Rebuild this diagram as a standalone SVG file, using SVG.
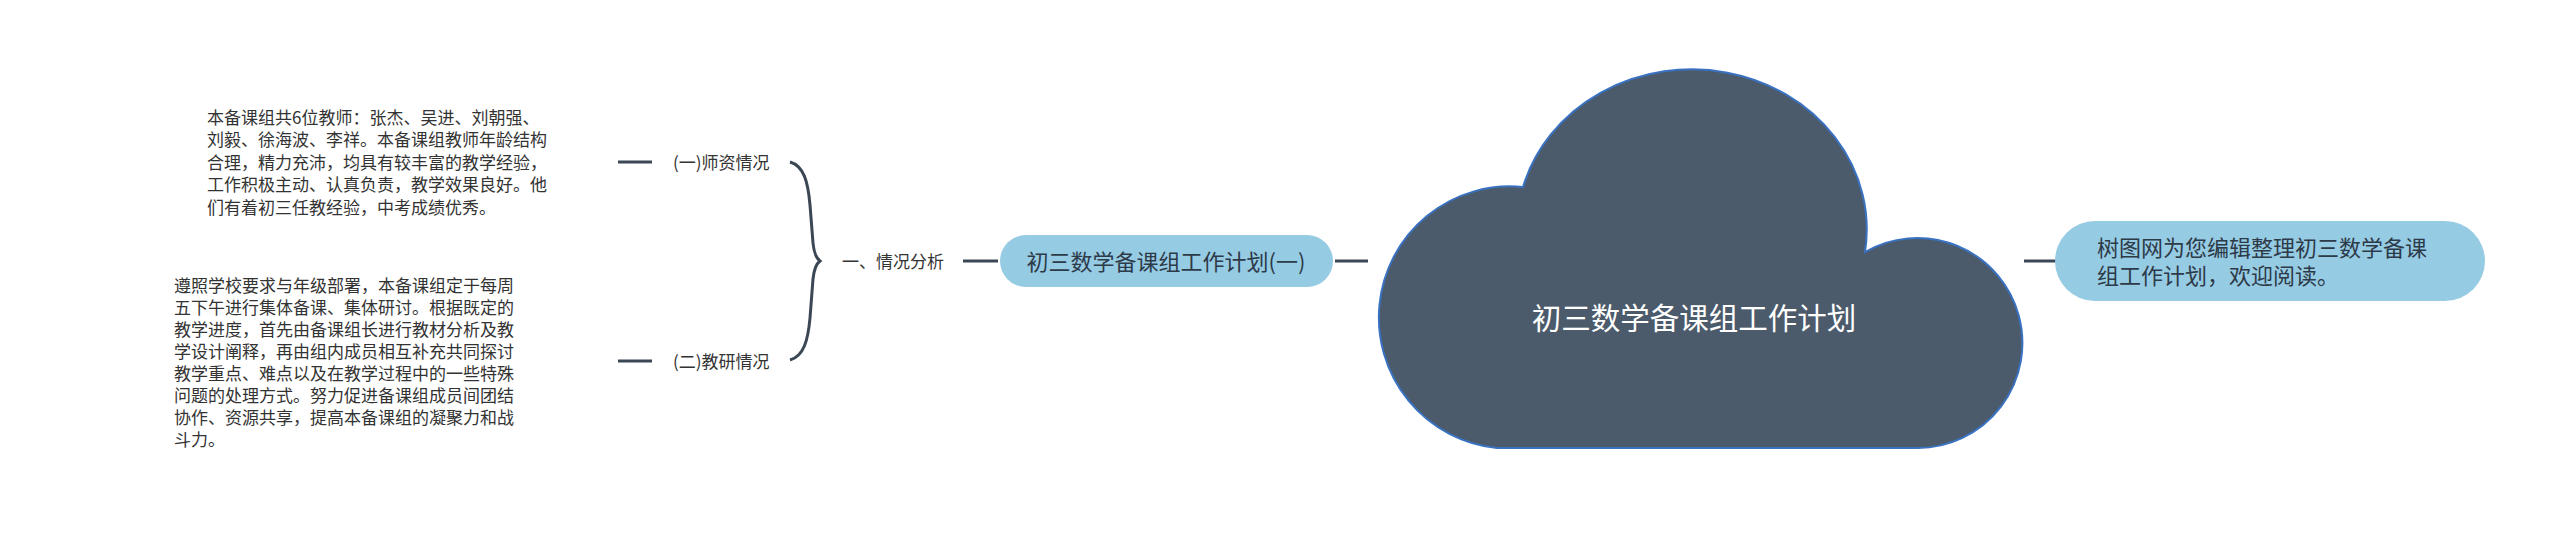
<svg xmlns="http://www.w3.org/2000/svg" width="2560" height="534" viewBox="0 0 2560 534">
<style>
.t{font-family:"Noto Sans CJK SC","Liberation Sans",sans-serif;fill:#333333;font-size:17px}
.lbl{font-family:"Noto Sans CJK SC","Liberation Sans",sans-serif;fill:#333333;font-size:17px}
.conn{stroke:#3b4754;stroke-width:3;fill:none;stroke-linecap:butt}
.pill{fill:#96cbe4}
.pt{font-family:"Noto Sans CJK SC","Liberation Sans",sans-serif;fill:#2d3a48;font-size:22px}
</style>
<rect width="2560" height="534" fill="#ffffff"/>
<g id="connectors">
<line class="conn" x1="618" y1="162" x2="652" y2="162"/>
<line class="conn" x1="618" y1="361" x2="652" y2="361"/>
<path class="conn" stroke-width="2.5" d="M790,162 C804,166 808,182 810,205 L813,243 C814,253 816,258 820,261 C816,264 814,269 813,279 L810,318 C808,340 804,356 790,360"/>
<line class="conn" x1="963" y1="261" x2="998" y2="261"/>
<line class="conn" x1="1335" y1="261" x2="1368" y2="261"/>
<line class="conn" x1="2024" y1="261" x2="2056" y2="261"/>
</g>
<g id="node-teachers-text">
<text class="t" x="207" y="123.5">本备课组共6位教师：张杰、吴进、刘朝强、</text>
<text class="t" x="207" y="146">刘毅、徐海波、李祥。本备课组教师年龄结构</text>
<text class="t" x="207" y="168.5">合理，精力充沛，均具有较丰富的教学经验，</text>
<text class="t" x="207" y="191">工作积极主动、认真负责，教学效果良好。他</text>
<text class="t" x="207" y="213.5">们有着初三任教经验，中考成绩优秀。</text>
</g>
<g id="node-research-text">
<text class="t" x="174" y="291.5">遵照学校要求与年级部署，本备课组定于每周</text>
<text class="t" x="174" y="313.6">五下午进行集体备课、集体研讨。根据既定的</text>
<text class="t" x="174" y="335.7">教学进度，首先由备课组长进行教材分析及教</text>
<text class="t" x="174" y="357.8">学设计阐释，再由组内成员相互补充共同探讨</text>
<text class="t" x="174" y="379.9">教学重点、难点以及在教学过程中的一些特殊</text>
<text class="t" x="174" y="402">问题的处理方式。努力促进备课组成员间团结</text>
<text class="t" x="174" y="424.1">协作、资源共享，提高本备课组的凝聚力和战</text>
<text class="t" x="174" y="446.2">斗力。</text>
</g>
<g id="node-teachers">
<text class="lbl" x="673" y="168.5">(一)师资情况</text>
</g>
<g id="node-research">
<text class="lbl" x="673" y="367.5">(二)教研情况</text>
</g>
<g id="node-analysis">
<text class="lbl" x="842" y="267.5">一、情况分析</text>
</g>
<g id="node-plan1">
<rect class="pill" x="1000" y="235" width="333" height="52" rx="26"/>
<text class="pt" x="1166" y="269.5" text-anchor="middle">初三数学备课组工作计划(一)</text>
</g>
<g id="node-root">
<path d="M1497,448 L1918,448 A105,105 0 1 0 1865,252 A175,160 0 0 0 1523,187 A131,131 0 1 0 1497,448 Z" fill="#4b5b6b" stroke="#3a72c2" stroke-width="2"/>
<text x="1694" y="329" text-anchor="middle" font-family="'Noto Sans CJK SC','Liberation Sans',sans-serif" font-size="29.5" fill="#ffffff">初三数学备课组工作计划</text>
</g>
<g id="node-intro">
<rect class="pill" x="2055" y="221" width="430" height="80" rx="40"/>
<text class="pt" x="2097" y="256">树图网为您编辑整理初三数学备课</text>
<text class="pt" x="2097" y="284">组工作计划，欢迎阅读。</text>
</g>
</svg>
